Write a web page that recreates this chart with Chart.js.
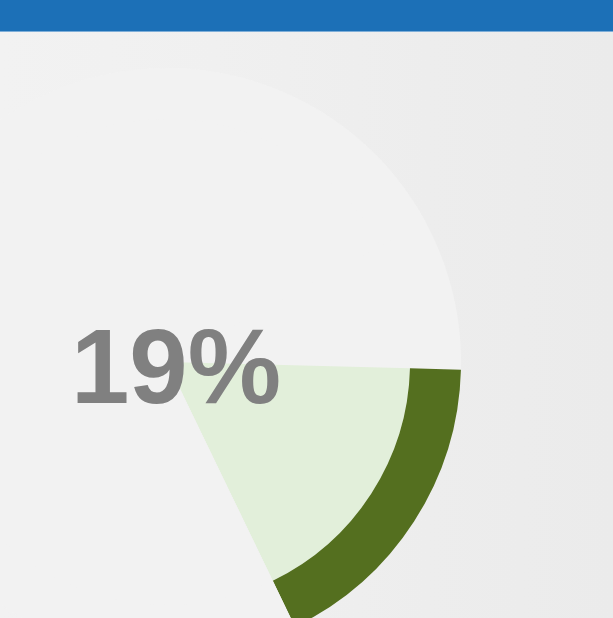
<!DOCTYPE html>
<html>
<head>
<meta charset="utf-8">
<script src="https://cdn.jsdelivr.net/npm/chart.js@4/dist/chart.umd.min.js"></script>
<style>
  html, body { margin: 0; padding: 0; width: 613px; height: 618px; overflow: hidden; }
  body { position: relative; background: linear-gradient(to right, #f2f2f2 0%, #f0f0f0 35%, #ededed 70%, #ebebeb 100%); }
  #bar { position: absolute; left: 0; top: 0; width: 613px; height: 31px; background: #1c70b7; border-bottom: 1px solid #7eaed8; }
  #wrap { position: absolute; left: -127px; top: 68px; width: 588px; height: 588px; }
</style>
</head>
<body>
<div id="bar"></div>
<div id="wrap"><canvas id="c"></canvas></div>
<script>
const categories = ['Complete', 'Remaining'];
const outerValues = [19, 81];
const innerValues = [19, 81];
const centerLabel = '19%';

const bgCircle = {
  id: 'bgCircle',
  beforeDatasetsDraw(chart) {
    const arc = chart.getDatasetMeta(0).data[0];
    if (!arc) return;
    const ctx = chart.ctx;
    ctx.save();
    ctx.beginPath();
    ctx.arc(arc.x, arc.y, arc.outerRadius, 0, Math.PI * 2);
    ctx.fillStyle = '#f2f2f2';
    ctx.fill();
    ctx.restore();
  }
};
const centerText = {
  id: 'centerText',
  afterDraw(chart) {
    const arc = chart.getDatasetMeta(0).data[0];
    if (!arc) return;
    const ctx = chart.ctx;
    ctx.save();
    ctx.font = 'bold 105px "Liberation Sans", Arial, sans-serif';
    ctx.fillStyle = '#808080';
    ctx.textAlign = 'center';
    ctx.textBaseline = 'alphabetic';
    ctx.fillText(centerLabel, arc.x + 9, arc.y + 41);
    ctx.restore();
  }
};

new Chart(document.getElementById('c'), {
  type: 'doughnut',
  data: {
    labels: categories,
    datasets: [
      { data: outerValues, backgroundColor: ['#546f1f', '#f2f2f2'], borderWidth: 0, weight: 51 },
      { data: innerValues, backgroundColor: ['#e2efda', '#f2f2f2'], borderWidth: 0, weight: 243 }
    ]
  },
  options: {
    responsive: true,
    maintainAspectRatio: false,
    animation: false,
    cutout: 0,
    rotation: 91.5,
    circumference: 330,
    layout: { padding: 0 },
    plugins: { legend: { display: false }, tooltip: { enabled: false } }
  },
  plugins: [bgCircle, centerText]
});
</script>
</body>
</html>
